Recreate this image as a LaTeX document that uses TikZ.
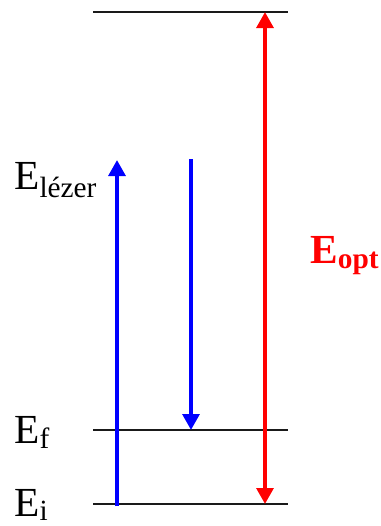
\documentclass[tikz,border=0pt]{standalone}
\usepackage{fontspec}
\setmainfont{Liberation Serif}
\usepackage{tikz}
\usepackage{xcolor}
\usetikzlibrary{arrows.meta}
\definecolor{Laser}{HTML}{0000FF}
\definecolor{Gap}{HTML}{FF0000}
\definecolor{Level}{HTML}{1A1A1A}
\newcommand{\lowsub}[2][5pt]{\lower#1\hbox{\fontsize{22}{22}\selectfont #2}}

\begin{document}
\begin{tikzpicture}[
  x=0.75pt,y=-0.75pt,
  level/.style={draw=Level,line width=0.9pt},
  laser/.style={draw=Laser,line width=3pt,-{Triangle[length=12pt,width=12.5pt]}},
  gap/.style={draw=Gap,line width=3pt,{Triangle[length=12pt,width=12.5pt]}-{Triangle[length=12pt,width=12.5pt]}},
  lbl/.style={anchor=base west,inner sep=0pt,font=\fontsize{31}{31}\selectfont}
]
\useasboundingbox (0,0) rectangle (381,526);
% energy levels
\coordinate (topL) at (93,12);
\coordinate (topR) at (288,12);
\coordinate (fL) at (93,430);
\coordinate (fR) at (288,430);
\coordinate (iL) at (93,504);
\coordinate (iR) at (288,504);
\draw[level] (topL) -- (topR);
\draw[level] (fL) -- (fR);
\draw[level] (iL) -- (iR);
% labels
\node[lbl] (elezer) at (14,189) {E\lowsub[6pt]{lézer}};
\node[lbl] (ef) at (14,443) {E\lowsub[4pt]{f}};
\node[lbl] (ei) at (14,516) {E\lowsub[3pt]{i}};
\node[lbl,text=Gap,font=\fontsize{31}{31}\selectfont\bfseries] (eopt) at (310,263) {E\lowsub[4pt]{\bfseries opt}};
% transitions
\coordinate (upS) at (117,506);
\coordinate (upE) at (117,160);
\coordinate (dnS) at (191,159);
\coordinate (dnE) at (191,430);
\coordinate (optT) at (265,12);
\coordinate (optB) at (265,504);
\draw[laser] (upS) -- (upE);
\draw[laser] (dnS) -- (dnE);
\draw[gap] (optT) -- (optB);
\end{tikzpicture}
\end{document}
